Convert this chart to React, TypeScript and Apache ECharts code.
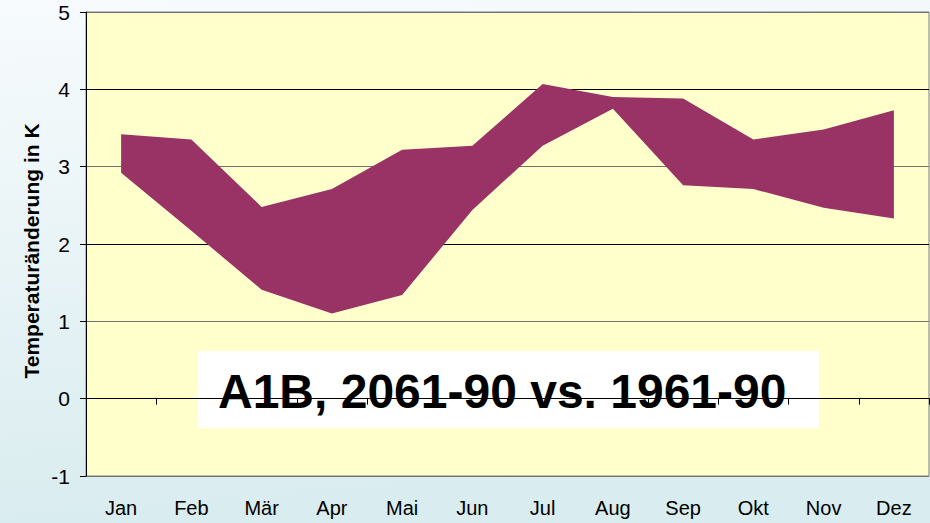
import React, { useEffect, useRef } from "react";
import * as echarts from "echarts";

const months = ["Jan", "Feb", "Mär", "Apr", "Mai", "Jun", "Jul", "Aug", "Sep", "Okt", "Nov", "Dez"];
const upperValues = [3.42, 3.35, 2.48, 2.71, 3.22, 3.27, 4.07, 3.9, 3.88, 3.35, 3.48, 3.73];
const lowerValues = [2.92, 2.17, 1.41, 1.1, 1.34, 2.44, 3.27, 3.75, 2.76, 2.71, 2.47, 2.33];
const yMin = -1;
const yMax = 5;
const yInterval = 1;
const axisTitle = "Temperaturänderung in K";
const boxText = "A1B, 2061-90 vs. 1961-90";

const FONT = "'Liberation Sans', Arial, sans-serif";

export default function App() {
  const ref = useRef<HTMLDivElement>(null);

  useEffect(() => {
    document.body.style.margin = "0";
    if (!ref.current) return;
    const chart = echarts.init(ref.current, null, { renderer: "svg" });
    const bandValues = upperValues.map((u, i) => +(u - lowerValues[i]).toFixed(2));

    chart.setOption({
      animation: false,
      backgroundColor: {
        type: "linear",
        x: 0,
        y: 0,
        x2: 0.15,
        y2: 1,
        colorStops: [
          { offset: 0, color: "#F7FBFD" },
          { offset: 1, color: "#D9ECEF" },
        ],
      },
      grid: {
        left: 86,
        right: 1,
        top: 12,
        bottom: 47,
        show: true,
        backgroundColor: "#FFFFCC",
        borderColor: "#808080",
        borderWidth: 1,
      },
      xAxis: [
        {
          type: "category",
          data: months,
          boundaryGap: true,
          position: "bottom",
          axisLine: { show: true, onZero: true, lineStyle: { color: "#000", width: 1 } },
          axisTick: { show: true, length: 6, lineStyle: { color: "#000" } },
          axisLabel: { show: false },
          splitLine: { show: false },
        },
        {
          type: "category",
          data: months,
          boundaryGap: true,
          position: "bottom",
          axisLine: { show: false, onZero: false },
          axisTick: { show: false },
          axisLabel: { show: true, margin: 22, color: "#000", fontSize: 20, fontFamily: FONT },
          splitLine: { show: false },
        },
      ],
      yAxis: {
        type: "value",
        min: yMin,
        max: yMax,
        interval: yInterval,
        axisLine: { show: true, lineStyle: { color: "#000", width: 1 } },
        axisTick: { show: true, length: 6, lineStyle: { color: "#000" } },
        axisLabel: { color: "#000", fontSize: 21, fontFamily: FONT, margin: 16 },
        splitLine: { show: true, lineStyle: { color: ["#707070", "#000000"], width: 1 } },
      },
      series: [
        {
          type: "line",
          name: "lower",
          data: lowerValues,
          stack: "band",
          symbol: "none",
          lineStyle: { width: 0, opacity: 0 },
          silent: true,
          z: 3,
        },
        {
          type: "line",
          name: "band",
          data: bandValues,
          stack: "band",
          symbol: "none",
          lineStyle: { width: 0, opacity: 0 },
          areaStyle: { color: "#993366", opacity: 1 },
          silent: true,
          z: 3,
        },
      ],
      graphic: [
        {
          type: "text",
          x: 31,
          y: 251,
          rotation: Math.PI / 2,
          style: {
            text: axisTitle,
            fill: "#000",
            fontSize: 21,
            fontWeight: "bold",
            fontFamily: FONT,
            align: "center",
            verticalAlign: "middle",
          },
        },
        {
          type: "group",
          z: 100,
          children: [
            {
              type: "rect",
              shape: { x: 198, y: 351, width: 621, height: 77 },
              style: { fill: "#FFFFFF" },
            },
            {
              type: "text",
              x: 218,
              y: 391,
              style: {
                text: boxText,
                fill: "#000",
                fontSize: 48,
                fontWeight: "bold",
                fontFamily: FONT,
                verticalAlign: "middle",
                align: "left",
              },
            },
          ],
        },
      ],
    });

    return () => chart.dispose();
  }, []);

  return <div ref={ref} style={{ width: 930, height: 523 }} />;
}
